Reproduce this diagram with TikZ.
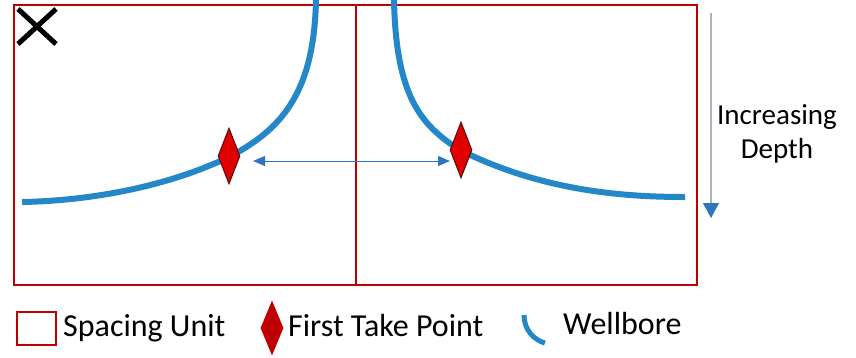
\documentclass[tikz,border=0pt]{standalone}
\usepackage{fontspec}
\setmainfont{Carlito}
\usetikzlibrary{shapes.geometric,arrows.meta}
\definecolor{unitred}{HTML}{C00000}
\definecolor{wellblue}{HTML}{2387C8}
\definecolor{ftpred}{HTML}{E00000}
\definecolor{ftpedge}{HTML}{5A0A0A}
\definecolor{arrblue}{HTML}{2E75C0}
\definecolor{depthgray}{HTML}{A8B4C0}
\tikzset{
  unitbox/.style={draw=unitred,line width=2pt},
  well/.style={draw=wellblue,line width=6pt},
  ftp/.style={shape=diamond,fill=ftpred,draw=ftpedge,line width=1pt,inner sep=0pt,minimum width=22pt,minimum height=56pt},
  legftp/.style={shape=diamond,fill=unitred,inner sep=0pt,minimum width=23pt,minimum height=55pt},
  lbl/.style={font=\fontsize{32}{36}\selectfont,inner sep=0pt,anchor=base west},
  deplbl/.style={font=\fontsize{29}{34}\selectfont,inner sep=0pt,anchor=base},
}
\begin{document}
\begin{tikzpicture}[x=1pt,y=-1pt]
\useasboundingbox (0,0) rectangle (856,357);
% spacing units
\draw[unitbox] (14,5) rectangle (697,285);
\draw[unitbox] (356,5) -- (356,285);
% X mark
\draw[black,line width=5pt] (18,9) -- (56,44) (18,44) -- (56,9);
% wellbores
\draw[well] (316,0) .. controls (314,95) and (280,130) .. (229,157)
            .. controls (160,190) and (80,201) .. (22,202);
\draw[well] (394,0) .. controls (396,95) and (420,125) .. (460,150)
            .. controls (540,190) and (620,197) .. (685,197);
% first take points
\node[ftp] (ld) at (229,156) {};
\node[ftp] (rd) at (461,150) {};
\coordinate (a1) at (253,161);
\coordinate (a2) at (450,161);
\draw[arrblue,line width=1pt,{Triangle[length=12pt,width=10pt]}-{Triangle[length=12pt,width=10pt]}] (a1) -- (a2);
% depth arrow
\coordinate (d1) at (711,13);
\coordinate (d2) at (711,218);
\draw[depthgray,line width=1.2pt,-{Triangle[length=15pt,width=16pt,color=arrblue]}] (d1) -- (d2);
\node[deplbl] (dl1) at (777,124) {Increasing};
\node[deplbl] (dl2) at (777,158) {Depth};
% legend
\draw[draw=unitred,line width=1.5pt] (17,312) rectangle (56,345);
\node[lbl] (l1) at (63,336) {Spacing Unit};
\node[legftp] (lf) at (272,328) {};
\node[lbl] (l2) at (288,336) {First Take Point};
\draw[wellblue,line width=5pt] (524,315) .. controls (524,330) and (534,340) .. (545,343);
\node[lbl] (l3) at (563,334) {Wellbore};
\end{tikzpicture}
\end{document}
